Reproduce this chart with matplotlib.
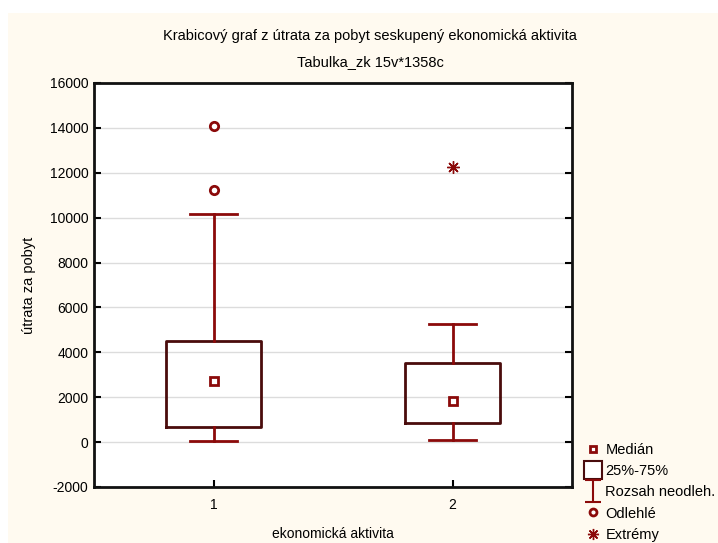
import matplotlib.pyplot as plt
from matplotlib.lines import Line2D
from matplotlib.path import Path
from matplotlib.patches import Rectangle

plt.rcParams['font.family'] = ['Liberation Sans', 'DejaVu Sans']
plt.rcParams['axes.unicode_minus'] = False

# data
groups = [1, 2]
q1 = [690, 830]
q3 = [4520, 3540]
medians = [2710, 1820]
whisker_low = [50, 100]
whisker_high = [10170, 5270]
outliers = {1: [14080, 11240]}
extremes = {2: [12250]}

dark = '#8b0a0a'
box_edge = '#4a0c0c'
bg = '#fffaf0'

fig = plt.figure(figsize=(7.18, 5.43), dpi=100)
fig.patch.set_facecolor('white')
fig.patches.append(Rectangle((8 / 718, 0), 1, 1 - 13 / 543, transform=fig.transFigure,
                             facecolor=bg, edgecolor='none', zorder=-10))

ax = fig.add_axes([94 / 718, 56 / 543, 478 / 718, 404 / 543])

stats = []
for i, g in enumerate(groups):
    stats.append(dict(label=str(g), med=medians[i], q1=q1[i], q3=q3[i],
                      whislo=whisker_low[i], whishi=whisker_high[i], fliers=[]))

ax.bxp(stats, positions=groups, widths=0.4, showfliers=False,
       boxprops=dict(color=box_edge, linewidth=2),
       whiskerprops=dict(color=dark, linewidth=2),
       capprops=dict(color=dark, linewidth=2),
       medianprops=dict(linewidth=0), capwidths=0.2)

ax.plot(groups, medians, 's', ms=6, mfc='white', mec=dark, mew=2, ls='none')
for g, vals in outliers.items():
    ax.plot([g] * len(vals), vals, 'o', ms=6, mfc='white', mec=dark, mew=2, ls='none')
for g, vals in extremes.items():
    ax.plot([g] * len(vals), vals, marker=(8, 2, 0), ms=9, color=dark, mew=1, ls='none')

ax.set_xlim(0.5, 2.5)
ax.set_ylim(-2000, 16000)
ax.set_yticks(range(-2000, 16001, 2000))
ax.set_xticks(groups)
ax.set_xticklabels([str(g) for g in groups])
ax.yaxis.grid(True, color='#dcdcdc', linewidth=1)
ax.set_axisbelow(True)
ax.tick_params(direction='in', length=5, width=1.5, labelsize=10, right=True, top=False, pad=4)
ax.tick_params(axis='x', pad=8)
for s in ax.spines.values():
    s.set_linewidth(2)
    s.set_color('#111111')

ax.set_ylabel('útrata za pobyt', fontsize=10.5, labelpad=10)
ax.set_xlabel('ekonomická aktivita', fontsize=10, labelpad=11)

fig.text(370 / 718, 1 - 36 / 543, 'Krabicový graf z útrata za pobyt seskupený ekonomická aktivita',
         ha='center', va='center', fontsize=10.5)
fig.text(370 / 718, 1 - 62 / 543, 'Tabulka_zk 15v*1358c', ha='center', va='center', fontsize=10.5)

whisker_path = Path([(-0.75, -1), (0.75, -1), (0, -1), (0, 1), (-0.75, 1), (0.75, 1)],
                    [Path.MOVETO, Path.LINETO, Path.MOVETO, Path.LINETO, Path.MOVETO, Path.LINETO])
handles = [
    Line2D([], [], marker='s', ms=5, mfc='white', mec=dark, mew=2, ls='none'),
    Line2D([], [], marker='s', ms=13, mfc='white', mec=box_edge, mew=1.5, ls='none'),
    Line2D([], [], marker=whisker_path, ms=16, color=dark, mew=1.5, ls='none'),
    Line2D([], [], marker='o', ms=5, mfc='white', mec=dark, mew=2, ls='none'),
    Line2D([], [], marker=(8, 2, 0), ms=8, color=dark, mew=1, ls='none'),
]
labels = ['Medián', '25%-75%', 'Rozsah neodleh.', 'Odlehlé', 'Extrémy']
fig.legend(handles, labels, loc='lower left', bbox_to_anchor=(577 / 718, -9 / 543),
           frameon=False, fontsize=10.5, handlelength=0.8, handletextpad=0.45,
           labelspacing=0.5, borderpad=0.2)

fig.savefig('out.png', dpi=100, facecolor=fig.get_facecolor())
